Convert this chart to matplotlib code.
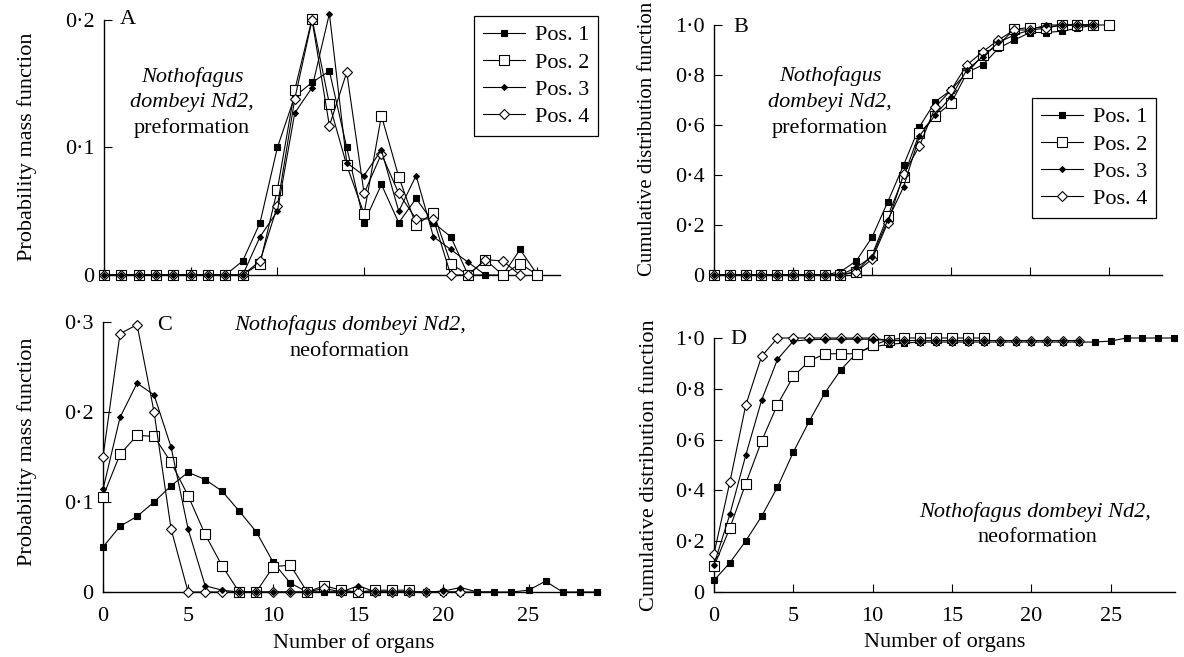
import matplotlib
matplotlib.use("Agg")
import matplotlib.pyplot as plt

plt.rcParams['font.family'] = ['Liberation Serif', 'DejaVu Serif']
plt.rcParams['font.size'] = 16

W, H = 1184, 657

## DATA

series_names = ['Pos. 1', 'Pos. 2', 'Pos. 3', 'Pos. 4']
organs = list(range(30))

# A: probability mass function, preformation
pre_pmf_1 = [0, 0, 0, 0, 0, 0, 0, 0, 0.011, 0.041, 0.100, 0.140, 0.151, 0.160, 0.100,
             0.041, 0.071, 0.041, 0.060, 0.041, 0.030, 0, 0, 0, 0.020, 0]
pre_pmf_2 = [0, 0, 0, 0, 0, 0, 0, 0, 0, 0.009, 0.067, 0.145, 0.201, 0.134, 0.086,
             0.048, 0.125, 0.077, 0.039, 0.049, 0.009, 0, 0.012, 0, 0.009, 0]
pre_pmf_3 = [0, 0, 0, 0, 0, 0, 0, 0, 0, 0.030, 0.050, 0.127, 0.147, 0.205, 0.088,
             0.078, 0.098, 0.050, 0.078, 0.030, 0.020, 0.010, 0]
pre_pmf_4 = [0, 0, 0, 0, 0, 0, 0, 0, 0, 0.011, 0.054, 0.138, 0.200, 0.117, 0.159,
             0.064, 0.095, 0.064, 0.044, 0.044, 0, 0, 0.012, 0.011, 0]

# B: cumulative distribution function, preformation
pre_cdf_1 = [0, 0, 0, 0, 0, 0, 0, 0, 0.013, 0.056, 0.151, 0.293, 0.440, 0.593, 0.693,
             0.740, 0.810, 0.840, 0.907, 0.940, 0.970, 0.970, 0.975, 0.987, 1.0]
pre_cdf_2 = [0, 0, 0, 0, 0, 0, 0, 0, 0, 0.013, 0.080, 0.236, 0.393, 0.567, 0.636,
             0.687, 0.807, 0.880, 0.920, 0.983, 0.990, 0.990, 1.0, 1.0, 1.0, 1.0]
pre_cdf_3 = [0, 0, 0, 0, 0, 0, 0, 0, 0, 0.030, 0.073, 0.220, 0.353, 0.556, 0.640,
             0.713, 0.820, 0.873, 0.930, 0.960, 0.980, 1.0, 1.0, 1.0, 1.0]
pre_cdf_4 = [0, 0, 0, 0, 0, 0, 0, 0, 0, 0.013, 0.063, 0.209, 0.403, 0.516, 0.671,
             0.740, 0.840, 0.893, 0.940, 0.980, 0.980, 0.987, 1.0, 1.0, 1.0]

# C: probability mass function, neoformation
neo_pmf_1 = [0.050, 0.073, 0.084, 0.100, 0.118, 0.133, 0.125, 0.112, 0.090, 0.067,
             0.033, 0.010, 0, 0, 0, 0, 0, 0, 0, 0, 0, 0, 0, 0, 0, 0.002, 0.012, 0, 0, 0]
neo_pmf_2 = [0.106, 0.153, 0.174, 0.173, 0.144, 0.107, 0.064, 0.029, 0, 0,
             0.028, 0.030, 0, 0.007, 0.002, 0, 0.002, 0.002, 0.002]
neo_pmf_3 = [0.114, 0.194, 0.232, 0.219, 0.161, 0.070, 0.007, 0.002, 0, 0,
             0, 0, 0, 0, 0, 0.007, 0, 0, 0, 0, 0.001, 0.005, 0, 0]
neo_pmf_4 = [0.150, 0.287, 0.297, 0.200, 0.070, 0, 0, 0, 0, 0,
             0, 0, 0, 0.004, 0, 0, 0, 0, 0, 0, 0, 0]

# D: cumulative distribution function, neoformation
neo_cdf_1 = [0.046, 0.115, 0.201, 0.298, 0.413, 0.551, 0.672, 0.785, 0.875, 0.942,
             0.965, 0.975, 0.980, 0.984, 0.984, 0.984, 0.984, 0.984, 0.984, 0.984,
             0.984, 0.984, 0.984, 0.984, 0.984, 0.988, 1.0, 1.0, 1.0, 1.0]
neo_cdf_2 = [0.101, 0.252, 0.427, 0.594, 0.738, 0.849, 0.909, 0.938, 0.938, 0.938,
             0.971, 0.993, 1.0, 1.0, 1.0, 1.0, 1.0, 1.0]
neo_cdf_3 = [0.108, 0.306, 0.538, 0.755, 0.916, 0.988, 0.993, 0.995, 0.995, 0.995,
             0.995, 0.990, 0.990, 0.990, 0.990, 0.990, 0.990, 0.990, 0.990, 0.990,
             0.990, 0.990, 0.990, 0.990]
neo_cdf_4 = [0.151, 0.433, 0.735, 0.928, 1.0, 1.0, 1.0, 1.0, 1.0, 1.0,
             1.0, 0.990, 0.990, 0.990, 0.990, 0.990, 0.990, 0.990, 0.990, 0.990,
             0.990, 0.990, 0.990, 0.990]

x_ticks = [0, 5, 10, 15, 20, 25]
pmf_ticks_a = [0, 0.1, 0.2]
pmf_labels_a = ['0', '0·1', '0·2']
pmf_ticks_c = [0, 0.1, 0.2, 0.3]
pmf_labels_c = ['0', '0·1', '0·2', '0·3']
cdf_ticks = [0, 0.2, 0.4, 0.6, 0.8, 1.0]
cdf_labels = ['0', '0·2', '0·4', '0·6', '0·8', '1·0']

## STYLE

styles = [
    dict(marker='s', markersize=5, markerfacecolor='black', zorder=3),
    dict(marker='s', markersize=7, markerfacecolor='white', zorder=4),
    dict(marker='D', markersize=3, markerfacecolor='black', zorder=6),
    dict(marker='D', markersize=5.5, markerfacecolor='white', zorder=5),
]


def px_box(left, top, right, bottom):
    """ Convert a pixel box (top-left origin) to a figure-fraction rectangle """
    return [left / W, 1 - bottom / H, (right - left) / W, (bottom - top) / H]


def fig_text(x, y, s, **kw):
    fig.text(x / W, 1 - y / H, s, ha='center', va='center', **kw)


def draw_panel(ax, series, xmax, ymax, yticks, ylabels, show_xlabels):
    for name, vals, st in zip(series_names, series, styles):
        ax.plot(organs[:len(vals)], vals, color='black', linewidth=0.8,
                markeredgecolor='black', markeredgewidth=0.8, label=name,
                clip_on=False, **st)
    ax.set_xlim(0, xmax)
    ax.set_ylim(0, ymax)
    ax.set_xticks(x_ticks)
    ax.set_yticks(yticks)
    ax.set_yticklabels(ylabels)
    if show_xlabels:
        ax.set_xticklabels([str(t) for t in x_ticks])
    else:
        ax.set_xticklabels([])
    for side in ['top', 'right']:
        ax.spines[side].set_visible(False)
    for side in ['left', 'bottom']:
        ax.spines[side].set_linewidth(1.0)
    ax.tick_params(direction='in', length=5.5, width=0.8, labelsize=16)
    ax.tick_params(axis='y', pad=7)
    ax.tick_params(axis='x', pad=11)
    ax.patch.set_alpha(0)
    return ax


def add_legend(ax, left, top):
    leg = ax.legend(loc='upper left', bbox_to_anchor=(left / W, 1 - top / H),
                    bbox_transform=fig.transFigure, borderaxespad=0, fancybox=False,
                    framealpha=1, edgecolor='black', handlelength=1.9,
                    handletextpad=0.45, labelspacing=0.3, borderpad=0.4, fontsize=16)
    leg.get_frame().set_linewidth(0.9)


fig = plt.figure(figsize=(W / 100, H / 100), dpi=100)

ax_a = fig.add_axes(px_box(104, 20, 560, 275))
ax_b = fig.add_axes(px_box(714, 25, 1162, 275))
ax_c = fig.add_axes(px_box(103, 322, 600, 592))
ax_d = fig.add_axes(px_box(714, 338, 1175, 592))

draw_panel(ax_a, [pre_pmf_1, pre_pmf_2, pre_pmf_3, pre_pmf_4], 26.3, 0.2,
           pmf_ticks_a, pmf_labels_a, False)
draw_panel(ax_b, [pre_cdf_1, pre_cdf_2, pre_cdf_3, pre_cdf_4], 28.35, 1.0,
           cdf_ticks, cdf_labels, False)
draw_panel(ax_c, [neo_pmf_1, neo_pmf_2, neo_pmf_3, neo_pmf_4], 29.2, 0.3,
           pmf_ticks_c, pmf_labels_c, True)
draw_panel(ax_d, [neo_cdf_1, neo_cdf_2, neo_cdf_3, neo_cdf_4], 29.05, 1.0,
           cdf_ticks, cdf_labels, True)

add_legend(ax_a, 474, 16)
add_legend(ax_b, 1032, 98)

# panel letters
fig_text(128, 20, 'A')
fig_text(741, 27, 'B')
fig_text(165, 325, 'C')
fig_text(738, 340, 'D')

# y labels
fig_text(27, 147, 'Probability mass function', rotation=90)
fig_text(27, 452, 'Probability mass function', rotation=90)
fig_text(648, 139, 'Cumulative distribution function', rotation=90, fontsize=15)
fig_text(650, 465, 'Cumulative distribution function', rotation=90)

# x labels
fig_text(354, 643, 'Number of organs')
fig_text(945, 642, 'Number of organs')

# annotations
fig_text(192, 77, 'Nothofagus', style='italic')
fig_text(192, 103, 'dombeyi Nd2,', style='italic')
fig_text(192, 128, 'preformation')
fig_text(830, 76, 'Nothofagus', style='italic')
fig_text(830, 102, 'dombeyi Nd2,', style='italic')
fig_text(830, 128, 'preformation')
fig_text(350, 325, 'Nothofagus dombeyi Nd2,', style='italic')
fig_text(349, 352, 'neoformation')
fig_text(1035, 512, 'Nothofagus dombeyi Nd2,', style='italic')
fig_text(1037, 538, 'neoformation')

fig.savefig('out.png', dpi=100)
